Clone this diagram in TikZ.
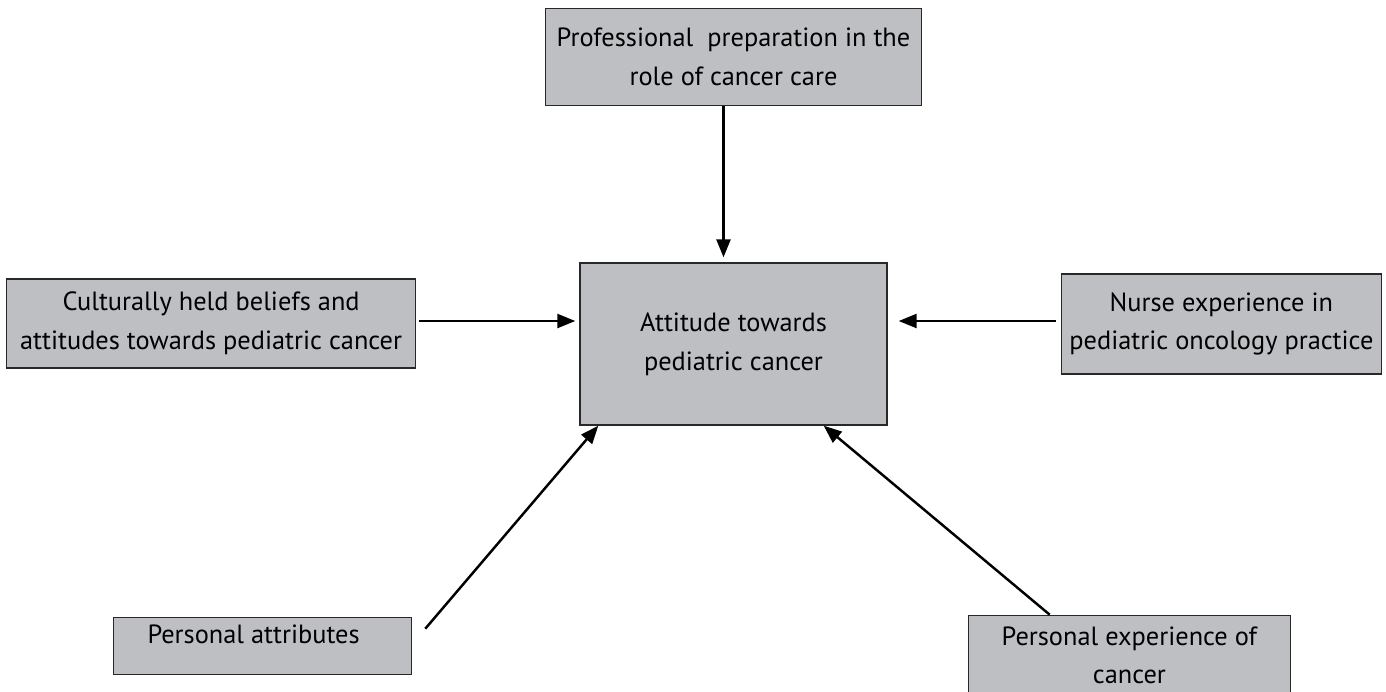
\documentclass[tikz,border=0pt]{standalone}
\usepackage{fontspec}
\setmainfont{PT Sans}
\usetikzlibrary{positioning,arrows.meta}
\definecolor{boxgray}{RGB}{190,191,195}
\definecolor{boxline}{RGB}{40,40,40}
\tikzset{node distance=3cm, auto,
  >={Triangle[length=0.36cm,width=0.28cm]},
  factor/.style={draw=boxline, line width=0.8pt, fill=boxgray, align=center,
    font=\fontsize{15}{22}\selectfont, inner sep=0pt},
  link/.style={->, line width=1.4pt}}

\begin{document}
\begin{tikzpicture}
\useasboundingbox (-14.67,-6.94) rectangle (13.05,6.88);
\node[factor, minimum width=6.14cm, minimum height=3.24cm] (att) {Attitude towards\\pediatric cancer};
\node[factor, minimum width=7.52cm, minimum height=1.94cm] (prof) [above=3.12cm of att] {Professional\ \ preparation in the\\role of cancer care};
\node[factor, minimum width=8.18cm, minimum height=1.78cm] (cult) [left=3.26cm of att, yshift=0.41cm] {Culturally held beliefs and\\attitudes towards pediatric cancer};
\node[factor, minimum width=6.4cm, minimum height=2cm] (nurse) [right=3.46cm of att, yshift=0.4cm] {Nurse experience in\\pediatric oncology practice};
\node[factor, minimum width=5.96cm, minimum height=1.14cm, text depth=0.46cm] (pers) [below left=3.82cm and 3.34cm of att.south west] {Personal attributes\hspace*{0.36cm}};
\node[factor, minimum width=6.44cm, minimum height=1.6cm] (exp) [below right=3.78cm and 1.6cm of att.south east] {Personal experience of\\cancer};
\coordinate (persend) at ([xshift=0.26cm, yshift=-0.24cm]pers.north east);
\draw[link, shorten >=0.1cm] ([xshift=-0.2cm]prof.south) -- ([xshift=-0.2cm]att.north);
\draw[link, shorten <=0.06cm, shorten >=0.08cm] ([yshift=0.05cm]cult.east) -- ([yshift=0.05cm]cult.east -| att.west);
\draw[link, shorten <=0.1cm, shorten >=0.22cm] ([yshift=0.06cm]nurse.west) -- ([yshift=0.06cm]nurse.west -| att.east);
\draw[link] (persend) -- ([xshift=0.38cm]att.south west);
\draw[link] ([xshift=1.64cm]exp.north west) -- ([xshift=-1.28cm]att.south east);
\end{tikzpicture}
\end{document}
